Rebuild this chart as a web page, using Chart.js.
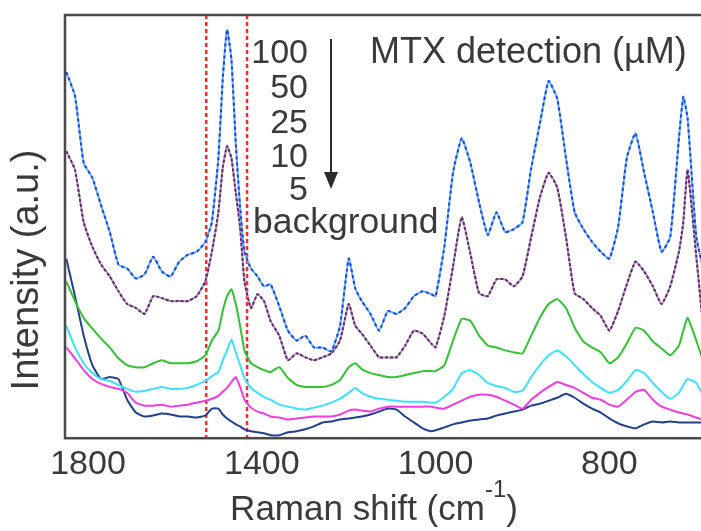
<!DOCTYPE html>
<html>
<head>
<meta charset="utf-8">
<script src="https://cdn.jsdelivr.net/npm/chart.js@4.4.1/dist/chart.umd.min.js"></script>
<style>
  html, body { margin: 0; padding: 0; background: #fff; overflow: hidden; }
  #wrap { width: 701px; height: 531px; overflow: hidden; }
</style>
</head>
<body>
<div id="wrap"><canvas id="ramanChart" width="712" height="531"></canvas></div>
<script>
// Raman shift (cm-1) of each sample point, read against the axis labels
const shifts = [1850,1830,1810,1790,1770,1750,1730,1710,1690,1670,1650,1630,1610,1590,1570,1550,1530,
  1515,1500,1490,1480,1470,1460,1450,1440,1425,1410,1395,1380,
  1360,1340,1320,1300,1280,1260,1240,1220,1200,1185,1170,
  1150,1130,1110,1090,1070,1050,1030,1010,
  1000,990,980,970,960,950,940,930,920,910,900,890,880,870,860,850,840,830,820,810,800,
  790,780,770,760,750,740,730,720,715,710,700,690];

// intensities (a.u.), one list per MTX concentration
const mtx100 = [371,347,279,264,236,209,176,172,162,166,184,169,164,179,186,189,199,
  219,284,364,414,384,299,234,189,172,164,154,156,
  134,109,99,104,92,92,88,114,182,152,139,
  126,109,129,126,132,144,149,146,
  144,194,269,304,279,239,206,229,209,212,219,274,319,362,344,284,229,212,199,189,182,
  214,284,309,269,229,189,204,304,346,324,204,164];
const mtx50 = [291,272,219,194,176,164,149,136,132,126,144,142,139,139,139,144,159,
  189,229,274,296,284,249,214,159,132,146,139,119,
  104,79,86,82,79,82,86,99,136,114,106,
  94,82,82,82,94,109,106,96,
  92,124,174,224,187,147,144,161,161,154,164,204,244,269,254,204,147,141,132,124,109,
  129,156,179,169,154,136,154,189,219,272,184,94];
const mtx25 = [159,139,122,111,101,92,81,74,72,72,76,79,76,76,76,78,84,
  99,109,129,144,151,136,114,89,76,72,69,67,
  72,61,54,52,52,52,54,59,72,76,70,
  66,64,62,62,64,66,68,68,
  68,74,99,121,119,104,94,92,89,87,86,104,122,136,141,132,112,98,92,87,76,
  82,96,112,109,98,91,84,94,109,122,99,72];
const mtx10 = [114,92,76,66,60,58,54,50,47,48,50,52,50,50,51,54,58,
  63,67,79,89,100,87,74,61,51,46,42,39,
  34,32,30,29,31,33,36,40,46,51,46,
  42,40,39,38,37,37,37,36,
  36,42,50,66,69,64,56,53,51,47,48,62,74,84,89,83,74,65,57,51,46,
  49,58,69,66,56,47,40,46,54,60,56,39];
const mtx5 = [92,81,69,60,55,52,50,46,36,33,33,34,32,33,34,36,38,
  40,43,47,51,57,62,52,39,31,27,25,22,
  21,19,20,21,22,22,22,24,28,29,28,
  27,30,32,32,32,32,32,32,
  31,30,34,38,42,44,44,42,38,34,30,39,46,52,57,54,51,46,41,39,34,
  32,39,47,49,39,32,29,26,25,24,21,18];
const background = [182,144,104,74,60,62,60,39,26,22,23,25,24,22,22,21,23,
  30,30,24,20,17,14,12,9,7,6,5,3,
  3,6,7,9,12,16,17,19,20,21,22,
  24,27,30,29,22,16,10,7,
  8,11,14,16,18,19,20,23,25,27,29,33,35,38,41,45,41,35,30,26,20,
  15,12,10,14,17,16,17,16,16,16,16,16];

const seriesLabels = ['100', '50', '25', '10', '5', 'background'];
const tickShifts = [1800, 1400, 1000, 800];
const markerShifts = [1528, 1434];
const axisRange = [1853, 690];

// the printed axis is not linear: labels are evenly spaced
function shiftToPos(s) {
  if (s >= 1400) return (1800 - s) / 400;
  if (s >= 1000) return 1 + (1400 - s) / 400;
  return 2 + (1000 - s) / 200;
}

function pts(arr) {
  return shifts.map((s, i) => ({ x: shiftToPos(s), y: arr[i] }));
}

const FONT = 'Arial, "Liberation Sans", sans-serif';
const INK = '#3a3a3a';

function line(label, arr, color, dash) {
  return {
    label: label,
    data: pts(arr),
    borderColor: color,
    borderWidth: 2,
    borderDash: dash || [],
    pointRadius: 0,
    tension: 0.15,
    fill: false
  };
}

const extras = {
  id: 'extras',
  beforeDatasetsDraw(chart) {
    const { ctx, chartArea: a, scales: { x } } = chart;
    ctx.save();
    ctx.strokeStyle = '#ff2a2a';
    ctx.lineWidth = 2.5;
    ctx.setLineDash([4, 3]);
    markerShifts.forEach(s => {
      const px = x.getPixelForValue(shiftToPos(s));
      ctx.beginPath();
      ctx.moveTo(px, a.top);
      ctx.lineTo(px, a.bottom);
      ctx.stroke();
    });
    ctx.restore();
  },
  afterDatasetsDraw(chart) {
    const { ctx, chartArea: a } = chart;
    ctx.save();
    // frame
    ctx.strokeStyle = '#4a4a4a';
    ctx.lineWidth = 2.5;
    ctx.strokeRect(a.left, a.top, a.right - a.left, a.bottom - a.top);

    ctx.fillStyle = INK;
    ctx.font = '34px ' + FONT;
    ctx.textBaseline = 'alphabetic';
    // concentration list
    const base = [63, 98, 133, 167, 200];
    ctx.textAlign = 'right';
    seriesLabels.slice(0, 5).forEach((t, i) => ctx.fillText(t, 308, base[i]));
    ctx.textAlign = 'left';
    ctx.font = '35.5px ' + FONT;
    ctx.fillText(seriesLabels[5], 253, 233);
    ctx.font = '36px ' + FONT;
    ctx.fillText('MTX detection (\u00b5M)', 370, 63);

    // arrow
    ctx.strokeStyle = '#2a2a2a';
    ctx.lineWidth = 2;
    ctx.beginPath();
    ctx.moveTo(331, 39);
    ctx.lineTo(331, 178);
    ctx.stroke();
    ctx.fillStyle = '#2a2a2a';
    ctx.beginPath();
    ctx.moveTo(324, 172);
    ctx.lineTo(338, 172);
    ctx.lineTo(331, 189);
    ctx.closePath();
    ctx.fill();

    // x title with superscript
    ctx.fillStyle = INK;
    ctx.font = '35px ' + FONT;
    const t1 = 'Raman shift (cm';
    const w1 = ctx.measureText(t1).width;
    ctx.font = '24px ' + FONT;
    const ws = ctx.measureText('-1').width;
    ctx.font = '35px ' + FONT;
    const w2 = ctx.measureText(')').width;
    let sx = 374 - (w1 + ws + w2) / 2;
    ctx.textAlign = 'left';
    ctx.fillText(t1, sx, 520);
    ctx.font = '24px ' + FONT;
    ctx.fillText('-1', sx + w1, 497);
    ctx.font = '35px ' + FONT;
    ctx.fillText(')', sx + w1 + ws, 520);

    // y title
    ctx.translate(28, 270);
    ctx.rotate(-Math.PI / 2);
    ctx.textAlign = 'center';
    ctx.textBaseline = 'middle';
    ctx.font = '38px ' + FONT;
    ctx.fillText('Intensity (a.u.)', 0, 0);
    ctx.restore();
  }
};

const ctx = document.getElementById('ramanChart');

new Chart(ctx, {
  type: 'line',
  data: {
    datasets: [
      line(seriesLabels[0], mtx100, '#1f3fe8', [3, 3]),
      line(seriesLabels[0], mtx100, '#62b4ff'),
      line(seriesLabels[1], mtx50, '#6a2378', [3, 2]),
      line(seriesLabels[1], mtx50, '#a7a3b0'),
      line(seriesLabels[2], mtx25, '#33c233'),
      line(seriesLabels[3], mtx10, '#3ee0ff'),
      line(seriesLabels[4], mtx5, '#f03ce0'),
      line(seriesLabels[5], background, '#203f8e')
    ]
  },
  options: {
    responsive: false,
    animation: false,
    layout: { padding: { left: 65, top: 15, right: 7, bottom: 40 } },
    plugins: { legend: { display: false }, tooltip: { enabled: false } },
    scales: {
      x: {
        type: 'linear',
        min: shiftToPos(axisRange[0]),
        max: shiftToPos(axisRange[1]),
        grid: { display: false, drawTicks: false },
        border: { display: false },
        afterBuildTicks: scale => {
          scale.ticks = tickShifts.map(s => ({ value: shiftToPos(s) }));
        },
        ticks: {
          padding: 6,
          color: INK,
          font: { family: FONT, size: 34 },
          maxRotation: 0,
          callback: value => {
            const t = tickShifts.find(s => Math.abs(shiftToPos(s) - value) < 1e-6);
            return t === undefined ? '' : String(t);
          }
        }
      },
      y: { display: false, min: 0, max: 429 }
    }
  },
  plugins: [extras]
});
</script>
</body>
</html>
